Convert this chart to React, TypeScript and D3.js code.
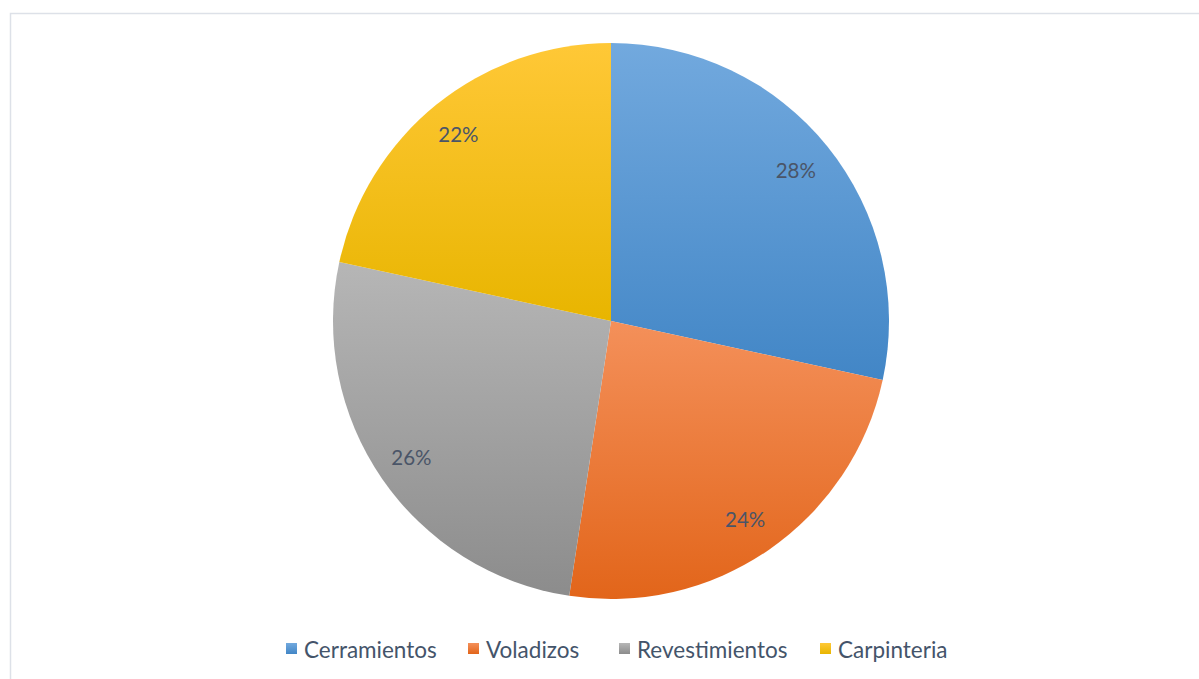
import React, { useEffect } from "react";
import * as d3 from "d3";

const categories = ["Cerramientos", "Voladizos", "Revestimientos", "Carpinteria"];
const values = [71, 60, 65, 54];
const labels = ["28%", "24%", "26%", "22%"];
const gradTop = ["#72a9de", "#f4905a", "#b6b6b6", "#ffc837"];
const gradBottom = ["#4286c6", "#e2651a", "#8c8c8c", "#e8b500"];

const W = 1199;
const H = 679;
const cx = 611;
const cy = 321;
const R = 278;
const labelR = 240;
const FONT = "Lato, 'Open Sans', sans-serif";

export default function App() {
  useEffect(() => {
    document.body.style.margin = "0";
  }, []);

  const pie = d3.pie<number>().sort(null).startAngle(0).endAngle(2 * Math.PI);
  const arcs = pie(values);
  const arcGen = d3.arc<d3.PieArcDatum<number>>().innerRadius(0).outerRadius(R);
  const labelArc = d3.arc<d3.PieArcDatum<number>>().innerRadius(labelR).outerRadius(labelR);

  const legendX = [286, 468, 619, 820];

  return (
    <svg width={W} height={H} style={{ display: "block" }} xmlns="http://www.w3.org/2000/svg">
      <defs>
        {categories.map((c, i) => (
          <linearGradient key={c} id={`g${i}`} x1="0" y1="0" x2="0" y2="1">
            <stop offset="0" stopColor={gradTop[i]} />
            <stop offset="1" stopColor={gradBottom[i]} />
          </linearGradient>
        ))}
      </defs>
      <rect x={0} y={0} width={W} height={H} fill="#ffffff" />
      <rect x={10.5} y={13.5} width={1300} height={800} fill="none" stroke="#dde1e8" strokeWidth={1.5} />
      <g transform={`translate(${cx},${cy})`}>
        {arcs.map((a, i) => (
          <path key={categories[i]} d={arcGen(a) || ""} fill={`url(#g${i})`} />
        ))}
        {arcs.map((a, i) => {
          const [x, y] = labelArc.centroid(a);
          return (
            <text
              key={`l${i}`}
              x={x - 2}
              y={y}
              textAnchor="middle"
              dominantBaseline="central"
              fontFamily={FONT}
              fontSize={20.5}
              fill="#4a5568"
            >
              {labels[i]}
            </text>
          );
        })}
      </g>
      <g>
        {categories.map((c, i) => (
          <g key={`lg${i}`}>
            <rect x={legendX[i]} y={643} width={11} height={11} fill={`url(#g${i})`} />
            <text
              x={legendX[i] + 18}
              y={649}
              dominantBaseline="central"
              fontFamily={FONT}
              fontSize={22.5}
              fill="#44546a"
            >
              {c}
            </text>
          </g>
        ))}
      </g>
    </svg>
  );
}
